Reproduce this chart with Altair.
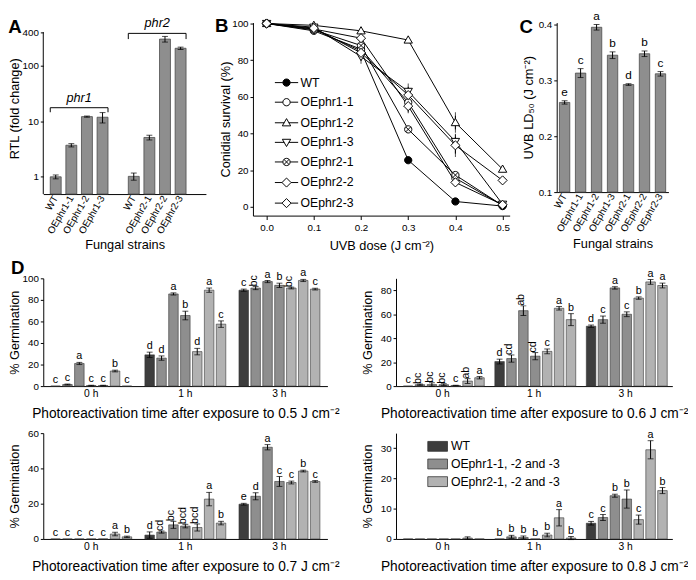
import altair as alt
import pandas as pd

FONT = "Liberation Sans"
INK = "#000000"
BAR_GREY = "#8e8e8e"
BAR_EDGE = "#4a4a4a"

panel_letters = ["A", "B", "C", "D"]

# ---------------- Panel A : RTL fold change (log) ----------------
a_keys = ["WT_1", "OEphr1-1", "OEphr1-2", "OEphr1-3", "WT_2", "OEphr2-1", "OEphr2-2", "OEphr2-3"]
a_slots = ["WT_1", "OEphr1-1", "OEphr1-2", "OEphr1-3", "gap", "WT_2", "OEphr2-1", "OEphr2-2", "OEphr2-3"]
a_rtl = [1.0, 3.7, 12.1, 11.8, 1.02, 5.1, 300, 205]
a_err = [0.08, 0.25, 0.3, 2.5, 0.15, 0.5, 35, 10]
a_ticks = [1, 10, 100, 400]
a_gene = ["phr1", "phr2"]
a_br_start = ["WT_1", "WT_2"]
a_br_mid = ["OEphr1-1", "OEphr2-1"]
a_br_end = ["OEphr1-3", "OEphr2-3"]
a_br_level = [17.5, 380]
a_br_foot = [14.5, 300]

# ---------------- Panel B : survival curves ----------------
b_dose = [0.0, 0.1, 0.2, 0.3, 0.4, 0.5]
b_strains = ["WT", "OEphr1-1", "OEphr1-2", "OEphr1-3", "OEphr2-1", "OEphr2-2", "OEphr2-3"]
b_surv_wt = [100, 97.0, 85.0, 25.5, 3.0, 0.5]
b_surv_oe11 = [100, 96.0, 86.0, 57.0, 15.7, 1.0]
b_surv_oe12 = [100, 99.0, 96.0, 91.0, 46.0, 20.6]
b_surv_oe13 = [100, 98.0, 82.0, 63.0, 35.7, 1.5]
b_surv_oe21 = [100, 96.5, 88.0, 42.3, 17.4, 0.8]
b_surv_oe22 = [100, 97.0, 92.0, 55.0, 13.4, 1.2]
b_surv_oe23 = [100, 97.5, 84.0, 61.0, 33.6, 14.5]
b_err_wt = [0.8, 0.5, 1.5, 0.8, 0.5, 0.2]
b_err_oe11 = [0.5, 0.8, 1.5, 4.0, 1.5, 0.3]
b_err_oe12 = [0.3, 0.5, 1.0, 1.2, 3.7, 1.0]
b_err_oe13 = [0.5, 0.6, 2.0, 2.5, 2.0, 0.5]
b_err_oe21 = [0.5, 0.5, 1.2, 1.0, 1.2, 0.3]
b_err_oe22 = [0.5, 0.5, 1.0, 1.5, 1.0, 0.4]
b_err_oe23 = [0.5, 0.5, 1.5, 2.0, 4.5, 1.0]
b_fills = ["black", "white", "white", "white", "white", "white", "white"]
b_strokes = ["black"] * 7

# ---------------- Panel C : LD50 ----------------
c_strains = ["WT", "OEphr1-1", "OEphr1-2", "OEphr1-3", "OEphr2-1", "OEphr2-2", "OEphr2-3"]
c_ld50 = [0.2605, 0.313, 0.395, 0.345, 0.2925, 0.3476, 0.3117]
c_err = [0.003, 0.008, 0.005, 0.006, 0.0015, 0.005, 0.004]
c_letters = ["e", "c", "a", "b", "d", "b", "c"]

# ---------------- Panel D : germination ----------------
times = ["0 h", "1 h", "3 h"]
d_strains = ["WT", "OEphr1-1", "OEphr1-2", "OEphr1-3", "OEphr2-1", "OEphr2-2", "OEphr2-3"]
d_group_names = ["WT", "OEphr1-1, -2 and -3", "OEphr2-1, -2 and -3"]
d_strain_group = [0, 1, 1, 1, 2, 2, 2]
d_colors = ["#3d3d3d", "#8e8e8e", "#b2b2b2"]

germ_05 = [[0, 1.5, 21, 0.5, 0.5, 14, 0], [29, 26, 85.5, 65.5, 32, 89, 57.5], [89, 91, 97, 93.5, 91, 98, 90]]
err_05 = [[0, 0.4, 1, 0.3, 0.3, 0.8, 0], [2.5, 2, 1, 4, 3, 2, 3], [1, 1.5, 1, 2, 0.8, 1, 0.8]]
let_05 = [["c", "c", "a", "c", "c", "b", "c"], ["d", "d", "a", "b", "d", "a", "c"], ["c", "bc", "a", "b", "bc", "a", "c"]]

germ_06 = [[0, 1.2, 1.3, 1.2, 0.5, 4.2, 7.0], [20.5, 23, 63, 25, 29, 65, 55.5], [50, 55.5, 82, 60, 73.5, 87, 84]]
err_06 = [[0, 0.5, 1.5, 0.8, 0.2, 2, 1], [2, 3, 4, 3, 2, 1.5, 5], [1, 3, 1, 2, 1, 2, 2]]
let_06 = [["c", "bc", "bc", "bc", "c", "ab", "a"], ["d", "cd", "ab", "cd", "c", "a", "b"], ["d", "c", "a", "c", "b", "a", "a"]]

germ_07 = [[0, 0, 0, 0, 0, 2.8, 1.2], [2.2, 3.9, 8.0, 7.3, 6.5, 22.6, 9.0], [19.7, 24.2, 52, 32.6, 32, 38.5, 32.6]]
err_07 = [[0, 0, 0, 0, 0, 1, 0.4], [1.8, 0.6, 2, 1, 2, 3.8, 1], [0.5, 2, 1.5, 2.8, 0.8, 0.5, 0.5]]
let_07 = [["c", "c", "c", "c", "c", "a", "b"], ["d", "cd", "bc", "bcd", "bcd", "a", "b"], ["e", "d", "a", "c", "c", "b", "c"]]

germ_08 = [[0, 0, 0, 0, 0, 0.3, 0], [0, 0.7, 0.5, 0, 1.3, 7.0, 0.3], [5.2, 7.1, 14.3, 13.2, 6.4, 29.5, 16.0]]
err_08 = [[0, 0, 0, 0, 0, 0.4, 0], [0, 0.5, 0.5, 0, 0.6, 2.7, 0.5], [0.6, 1, 0.5, 3, 1.5, 3, 1]]
let_08 = [["", "", "", "", "", "", ""], ["b", "b", "b", "b", "b", "a", "b"], ["c", "c", "b", "b", "c", "a", "b"]]

# ---------------- symbol paths ----------------
P_CIRCLE = "M-1,0A1,1,0,1,1,1,0A1,1,0,1,1,-1,0Z"
P_TRI_UP = "M0,-1.15L1.15,0.85L-1.15,0.85Z"
P_TRI_DN = "M0,1.15L1.15,-0.85L-1.15,-0.85Z"
P_XCIRC = P_CIRCLE + "M-0.71,-0.71L0.71,0.71M-0.71,0.71L0.71,-0.71"
P_DIAM = "M0,-1.25L1.25,0L0,1.25L-1.25,0Z"
b_paths = [P_CIRCLE, P_CIRCLE, P_TRI_UP, P_TRI_DN, P_XCIRC, P_DIAM, P_DIAM]
b_stub_w = [1.0, 1.0, 0.6, 0.6, 1.0, 1.25, 1.25]
b_legend_paths = [f"M-3.2,0L{-w},0M{w},0L3.2,0" + p for p, w in zip(b_paths, b_stub_w)]
P_SWATCH = "M-1.5,-0.75L1.5,-0.75L1.5,0.75L-1.5,0.75Z"


def letter(ch, px, py):
    return alt.Chart(pd.DataFrame({"p": [ch]})).mark_text(
        color=INK, fontSize=19, fontWeight="bold", font=FONT, baseline="middle"
    ).encode(x=alt.value(px), y=alt.value(py), text="p:N")


# ======================= Chart A =======================
WA, HA = 166, 175
a_df = pd.DataFrame({"key": a_keys, "rtl": a_rtl, "err": a_err})
a_df["lo"] = a_df["rtl"] - a_df["err"]
a_df["hi"] = a_df["rtl"] + a_df["err"]

a_xscale = alt.Scale(domain=a_slots, paddingInner=0.3, paddingOuter=0.86, align=0.26)
a_xaxis = alt.Axis(title="Fungal strains", labelAngle=300, labelAlign="right", labelBaseline="middle",
                   ticks=False, labelFontSize=10, titlePadding=4,
                   labelExpr="datum.value == 'gap' ? '' : split(datum.value, '_')[0]")
a_yscale = alt.Scale(type="log", domain=[0.49, 594])
a_yaxis = alt.Axis(title="RTL (fold change)", values=a_ticks, format="d", domain=False)


def a_x(field, **kw):
    return alt.X(f"{field}:N", scale=a_xscale, axis=a_xaxis, **kw)


def a_y(field):
    return alt.Y(f"{field}:Q", scale=a_yscale, axis=a_yaxis, stack=None)


a_base = alt.Chart(a_df)
a_bars = a_base.mark_bar(color=BAR_GREY, stroke=BAR_EDGE, strokeWidth=0.8).encode(
    x=a_x("key"), y=a_y("rtl"), y2=alt.value(HA))
a_errs = a_base.mark_rule(color=INK).encode(x=a_x("key"), y=a_y("lo"), y2="hi:Q")
a_caps = a_base.transform_fold(["lo", "hi"], as_=["which", "v"]).mark_tick(
    color=INK, size=6, thickness=1).encode(x=a_x("key"), y=a_y("v"))
a_line = alt.Chart(pd.DataFrame({"top": [a_ticks[-1]]})).mark_rule(color=INK).encode(
    x=alt.value(0), y=a_y("top"), y2=alt.value(HA))

br_df = pd.DataFrame({"gene": a_gene, "start": a_br_start, "mid": a_br_mid, "end": a_br_end,
                      "level": a_br_level, "foot": a_br_foot})
br = alt.Chart(br_df)
br_h = br.mark_rule(color=INK).encode(x=a_x("start", bandPosition=0), x2=alt.X2("end:N", bandPosition=1), y=a_y("level"))
br_l = br.mark_rule(color=INK).encode(x=a_x("start", bandPosition=0), y=a_y("level"), y2="foot:Q")
br_r = br.mark_rule(color=INK).encode(x=a_x("end", bandPosition=1), y=a_y("level"), y2="foot:Q")
br_t = br.mark_text(color=INK, fontStyle="italic", fontSize=13, baseline="bottom", dx=8, dy=-3).encode(
    x=a_x("mid"), y=a_y("level"), text="gene:N")

chart_a = alt.layer(a_bars, a_errs, a_caps, a_line, br_h, br_l, br_r, br_t,
                    letter(panel_letters[0], -29, 5)).properties(width=WA, height=HA)

# ======================= Chart B =======================
WB, HB = 262, 197
b_rows = []
for s, sv, ev in zip(b_strains,
                     [b_surv_wt, b_surv_oe11, b_surv_oe12, b_surv_oe13, b_surv_oe21, b_surv_oe22, b_surv_oe23],
                     [b_err_wt, b_err_oe11, b_err_oe12, b_err_oe13, b_err_oe21, b_err_oe22, b_err_oe23]):
    for d, v, e in zip(b_dose, sv, ev):
        b_rows.append({"strain": s, "dose": d, "surv": v, "err": e, "lo": v - e, "hi": v + e})
b_df = pd.DataFrame(b_rows)

b_xenc = alt.X("dose:Q", scale=alt.Scale(domain=[-0.029, 0.515], nice=False, zero=False),
               axis=alt.Axis(title="UVB dose (J cm⁻²)", values=b_dose, format=".1f", tickSize=4,
                             labelPadding=3, titlePadding=8, labelFontSize=10))
b_yscale = alt.Scale(domain=[-4.7, 100.5], nice=False, zero=False)
b_yaxis = alt.Axis(title="Conidial survival (%)", values=[0, 20, 40, 60, 80, 100], minExtent=19, maxExtent=19)

b_base = alt.Chart(b_df)
b_lines = b_base.mark_line(color=INK, strokeWidth=1).encode(
    x=b_xenc, y=alt.Y("surv:Q", scale=b_yscale, axis=b_yaxis), detail="strain:N")
b_errs = b_base.mark_rule(color=INK).encode(
    x=b_xenc, y=alt.Y("lo:Q", scale=b_yscale, axis=b_yaxis), y2="hi:Q")
b_caps = b_base.transform_filter("datum.err >= 1.5").transform_fold(["lo", "hi"], as_=["which", "v"]).mark_tick(
    color=INK, size=7, thickness=1).encode(x=b_xenc, y=alt.Y("v:Q", scale=b_yscale, axis=b_yaxis))
b_pts = b_base.mark_point(filled=True, stroke=INK, strokeWidth=1, size=55, opacity=1).encode(
    x=b_xenc, y=alt.Y("surv:Q", scale=b_yscale, axis=b_yaxis),
    shape=alt.Shape("strain:N", scale=alt.Scale(domain=b_strains, range=b_paths), legend=None),
    fill=alt.Fill("strain:N", scale=alt.Scale(domain=b_strains, range=b_fills), legend=None))
b_leg_def = alt.Legend(title=None, orient="none", legendX=28, legendY=55, labelFontSize=12.5,
                       labelFont=FONT, labelColor=INK, symbolSize=55, symbolStrokeColor=INK,
                       symbolStrokeWidth=1, labelOffset=8, rowPadding=7, padding=0, symbolOpacity=1)
b_leg = b_base.transform_filter("datum.dose < -1").mark_point(
    filled=True, strokeWidth=1, size=55, opacity=1).encode(
    x=b_xenc, y=alt.Y("surv:Q", scale=b_yscale, axis=b_yaxis),
    shape=alt.Shape("strain:N", scale=alt.Scale(domain=b_strains, range=b_legend_paths), legend=b_leg_def),
    fill=alt.Fill("strain:N", scale=alt.Scale(domain=b_strains, range=b_fills), legend=b_leg_def),
    stroke=alt.Stroke("strain:N", scale=alt.Scale(domain=b_strains, range=b_strokes), legend=b_leg_def))

chart_b = alt.layer(b_lines, b_errs, b_caps, b_pts, b_leg,
                    letter(panel_letters[1], -32, 4)).resolve_scale(
    shape="independent", fill="independent", stroke="independent").properties(width=WB, height=HB)

# ======================= Chart C =======================
WC, HC = 114, 173
c_df = pd.DataFrame({"strain": c_strains, "ld": c_ld50, "err": c_err, "let": c_letters})
c_df["lo"] = c_df["ld"] - c_df["err"]
c_df["hi"] = c_df["ld"] + c_df["err"]
c_xenc = alt.X("strain:N", scale=alt.Scale(domain=c_strains, paddingInner=0.35, paddingOuter=0.17),
               axis=alt.Axis(title="Fungal strains", labelAngle=300, labelAlign="right", labelBaseline="middle",
                             ticks=False, labelFontSize=10, titlePadding=4))
c_yscale = alt.Scale(domain=[0.1, 0.4034], nice=False, zero=False)
c_yaxis = alt.Axis(title="UVB LD₅₀ (J cm⁻²)", values=[0.1, 0.2, 0.3, 0.4], format=".1f")
c_base = alt.Chart(c_df)
c_bars = c_base.mark_bar(color=BAR_GREY, stroke=BAR_EDGE, strokeWidth=0.8).encode(
    x=c_xenc, y=alt.Y("ld:Q", scale=c_yscale, axis=c_yaxis), y2=alt.datum(0.1))
c_errs = c_base.mark_rule(color=INK).encode(x=c_xenc, y=alt.Y("lo:Q", scale=c_yscale, axis=c_yaxis), y2="hi:Q")
c_caps = c_base.transform_fold(["lo", "hi"], as_=["which", "v"]).mark_tick(color=INK, size=6, thickness=1).encode(
    x=c_xenc, y=alt.Y("v:Q", scale=c_yscale, axis=c_yaxis))
c_txt = c_base.mark_text(color=INK, fontSize=12, baseline="bottom", dy=-2).encode(
    x=c_xenc, y=alt.Y("hi:Q", scale=c_yscale, axis=c_yaxis), text="let:N")
chart_c = alt.layer(c_bars, c_errs, c_caps, c_txt, letter(panel_letters[2], -31, 5)).properties(width=WC, height=HC)


# ======================= Charts D =======================
def d_frame(vals, errs, lets):
    rows = []
    for ti, t in enumerate(times):
        for si, s in enumerate(d_strains):
            v, e = vals[ti][si], errs[ti][si]
            rows.append({"time": t, "strain": s, "group": d_group_names[d_strain_group[si]],
                         "val": v, "err": e, "lo": v - e, "hi": v + e, "let": lets[ti][si]})
    return pd.DataFrame(rows)


def d_chart(df, ymax, yticks, dose, width, height, show_legend=False, mark_letter=None):
    xenc = alt.X("time:N", scale=alt.Scale(domain=times, paddingInner=0.14, paddingOuter=0.08),
                 axis=alt.Axis(title=f"Photoreactivation time after exposure to {dose} J cm⁻²", labelAngle=0,
                               ticks=False, labelFontSize=10.5, labelPadding=3, titleFontSize=14, titlePadding=8))
    xo = alt.XOffset("strain:N", scale=alt.Scale(domain=d_strains, paddingInner=0.2))
    ysc = alt.Scale(domain=[0, ymax], nice=False)
    yax = alt.Axis(title="% Germination", values=yticks)
    if show_legend:
        leg = alt.Legend(title=None, orient="none", legendX=35, legendY=6, labelFontSize=12.5, labelFont=FONT,
                         labelColor=INK, symbolType=P_SWATCH, symbolSize=180, symbolStrokeColor="#333333",
                         symbolStrokeWidth=0.8, labelOffset=6, rowPadding=3, padding=0, symbolOpacity=1)
    else:
        leg = None
    base = alt.Chart(df)
    bars = base.mark_bar(stroke="#333333", strokeWidth=0.6).encode(
        x=xenc, xOffset=xo, y=alt.Y("val:Q", scale=ysc, axis=yax, stack=None),
        fill=alt.Fill("group:N", scale=alt.Scale(domain=d_group_names, range=d_colors), legend=leg))
    errs = base.transform_filter("datum.err > 0").mark_rule(color=INK).encode(
        x=xenc, xOffset=xo, y=alt.Y("lo:Q", scale=ysc, axis=yax), y2="hi:Q")
    caps = base.transform_filter("datum.err > 0").transform_fold(["lo", "hi"], as_=["which", "v"]).mark_tick(
        color=INK, size=6, thickness=1).encode(x=xenc, xOffset=xo, y=alt.Y("v:Q", scale=ysc, axis=yax))
    t1 = base.transform_filter("length(datum.let) == 1").mark_text(
        color=INK, fontSize=11, baseline="bottom", dy=-1).encode(
        x=xenc, xOffset=xo, y=alt.Y("hi:Q", scale=ysc, axis=yax), text="let:N")
    t2 = base.transform_filter("length(datum.let) >= 2").mark_text(
        color=INK, fontSize=11, angle=270, align="left", baseline="middle", dy=-2).encode(
        x=xenc, xOffset=xo, y=alt.Y("hi:Q", scale=ysc, axis=yax), text="let:N")
    layers = [bars, errs, caps, t1, t2]
    if mark_letter:
        layers.append(letter(mark_letter, -26, -10))
    return alt.layer(*layers).properties(width=width, height=height)


d1 = d_chart(d_frame(germ_05, err_05, let_05), 100, [0, 20, 40, 60, 80, 100], "0.5", 290, 110,
             mark_letter=panel_letters[3])
d2 = d_chart(d_frame(germ_06, err_06, let_06), 90, [0, 20, 40, 60, 80], "0.6", 282, 110)
d3 = d_chart(d_frame(germ_07, err_07, let_07), 60, [0, 20, 40, 60], "0.7", 290, 108)
d4 = d_chart(d_frame(germ_08, err_08, let_08), 35, [0, 10, 20, 30], "0.8", 282, 108, show_legend=True)

IND = dict(fill="independent", shape="independent", stroke="independent")

row1 = alt.hconcat(chart_a, chart_b, chart_c, spacing=48, bounds="flush").resolve_scale(**IND).resolve_legend(**IND)
row2 = alt.hconcat(d1, d2, spacing=70, bounds="flush").resolve_scale(**IND).resolve_legend(**IND)
row3 = alt.hconcat(d3, d4, spacing=70, bounds="flush").resolve_scale(**IND).resolve_legend(**IND)

chart = alt.vconcat(row1, row2, row3, spacing=7).resolve_scale(**IND).resolve_legend(**IND).properties(
    padding={"left": 0, "top": -5, "right": 0, "bottom": 0}
).configure(font=FONT).configure_view(stroke=None).configure_axis(
    labelFont=FONT, titleFont=FONT, labelColor=INK, titleColor=INK, domainColor=INK, tickColor=INK,
    labelFontSize=10, titleFontSize=13, titleFontWeight="normal", grid=False, tickSize=3, labelPadding=2,
    domainWidth=1, tickWidth=1
).configure_axisY(minExtent=20, maxExtent=20, titlePadding=2)

chart.save("out.html", embed_options={"renderer": "svg", "actions": False})
